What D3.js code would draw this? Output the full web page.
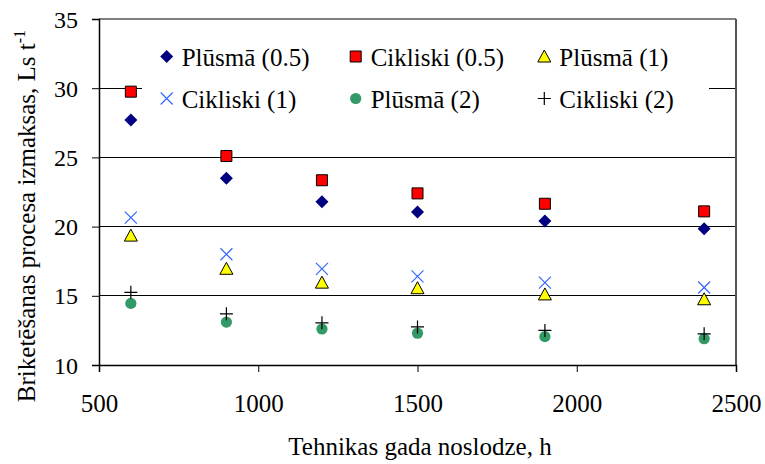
<!DOCTYPE html>
<html>
<head>
<meta charset="utf-8">
<script src="https://cdn.jsdelivr.net/npm/d3@7"></script>
<style>
  html, body { margin: 0; padding: 0; background: #fff; }
  svg { display: block; }
  svg text { font-family: 'Liberation Serif', 'Times New Roman', Times, 'DejaVu Serif', serif; }
</style>
</head>
<body>
<svg id="chart" width="765" height="464"></svg>
<script>
// Annual machine load, h
const hours = [600, 900, 1200, 1500, 1900, 2400];

// Briquetting cost, Ls per tonne
const plusma05   = [27.7, 23.5, 21.8, 21.05, 20.4, 19.85];
const cikliski05 = [29.75, 25.1, 23.35, 22.4, 21.65, 21.1];
const plusma1    = [19.35, 16.95, 15.95, 15.55, 15.1, 14.75];
const cikliski1  = [20.65, 18.0, 16.95, 16.4, 15.95, 15.6];
const plusma2    = [14.45, 13.1, 12.6, 12.3, 12.05, 11.9];
const cikliski2  = [15.25, 13.7, 13.05, 12.75, 12.5, 12.25];

const xTicks = [500, 1000, 1500, 2000, 2500];
const yTicks = [10, 15, 20, 25, 30, 35];

const seriesNames = ["Plūsmā (0.5)", "Cikliski (0.5)", "Plūsmā (1)",
                     "Cikliski (1)", "Plūsmā (2)", "Cikliski (2)"];

const FONT = "'Liberation Serif', 'Times New Roman', Times, 'DejaVu Serif', serif";

const series = [
  { name: seriesNames[0], values: plusma05,   shape: "diamond",  fill: "#000080", stroke: "none" },
  { name: seriesNames[1], values: cikliski05, shape: "square",   fill: "#ff0000", stroke: "#000" },
  { name: seriesNames[2], values: plusma1,    shape: "triangle", fill: "#ffff00", stroke: "#000" },
  { name: seriesNames[3], values: cikliski1,  shape: "x",        fill: "none",    stroke: "#3366ff" },
  { name: seriesNames[4], values: plusma2,    shape: "circle",   fill: "#339966", stroke: "none" },
  { name: seriesNames[5], values: cikliski2,  shape: "plus",     fill: "none",    stroke: "#000" }
];

const svg = d3.select("#chart").attr("font-family", FONT);
const plot = { left: 99, right: 736, top: 19, bottom: 365 };

const x = d3.scaleLinear().domain([500, 2500]).range([plot.left, plot.right]);
const y = d3.scaleLinear().domain([10, 35]).range([plot.bottom, plot.top]);

// Marker path generator, centred on 0,0
function markerPath(shape) {
  switch (shape) {
    case "diamond":  return "M0,-6.5L6.5,0L0,6.5L-6.5,0Z";
    case "square":   return "M-5.5,-5.5H5.5V5.5H-5.5Z";
    case "triangle": return "M0,-6.5L6.5,5.5H-6.5Z";
    case "x":        return "M-6,-6L6,6M6,-6L-6,6";
    case "plus":     return "M-6.5,0H6.5M0,-6.5V6.5";
    case "circle":   return d3.symbol(d3.symbolCircle, Math.PI * 5.6 * 5.6)();
  }
}

function drawMarker(g, s) {
  g.append("path")
    .attr("d", markerPath(s.shape))
    .attr("fill", s.fill)
    .attr("stroke", s.stroke)
    .attr("stroke-width", s.shape === "x" || s.shape === "plus" ? 1.2 : 1);
}

// Horizontal gridlines
svg.append("g")
  .selectAll("line")
  .data(yTicks.filter(t => t > 10 && t < 35))
  .join("line")
  .attr("x1", plot.left).attr("x2", plot.right)
  .attr("y1", d => y(d)).attr("y2", d => y(d))
  .attr("stroke", "#000").attr("stroke-width", 1)
  .attr("shape-rendering", "crispEdges");

// Plot frame: top and right edges
svg.append("line")
  .attr("x1", plot.left).attr("x2", plot.right)
  .attr("y1", plot.top).attr("y2", plot.top)
  .attr("stroke", "#000").attr("stroke-width", 1.2);
svg.append("line")
  .attr("x1", plot.right).attr("x2", plot.right)
  .attr("y1", plot.top).attr("y2", plot.bottom)
  .attr("stroke", "#555").attr("stroke-width", 2);

// Legend box (white, drawn over the gridline)
const legend = svg.append("g");
legend.append("rect")
  .attr("x", 142).attr("y", 34).attr("width", 567).attr("height", 90)
  .attr("fill", "#fff");

const legendCols = [166.7, 355.7, 544.3];
const legendRows = [66, 108];
series.forEach((s, i) => {
  const cx = legendCols[i % 3];
  const by = legendRows[Math.floor(i / 3)];
  const g = legend.append("g").attr("transform", `translate(${cx},${by - 9.5})`);
  drawMarker(g, s);
  legend.append("text")
    .attr("x", cx + 15).attr("y", by)
    .attr("font-family", FONT)
    .attr("font-size", 25)
    .attr("fill", "#000")
    .text(s.name);
});

// Axes
const xAxis = d3.axisBottom(x).tickValues(xTicks).tickFormat(d3.format("d")).tickSize(7).tickPadding(22);
const yAxis = d3.axisLeft(y).tickValues(yTicks).tickFormat(d3.format("d")).tickSize(7).tickPadding(14);

const gx = svg.append("g").attr("transform", `translate(0,${plot.bottom})`).call(xAxis);
const gy = svg.append("g").attr("transform", `translate(${plot.left},0)`).call(yAxis);

[gx, gy].forEach(g => {
  g.attr("font-family", FONT);
  g.select(".domain").attr("stroke", "#000").attr("stroke-width", 1.5);
  g.selectAll(".tick line").attr("stroke", "#000").attr("stroke-width", 1);
  g.selectAll(".tick text")
    .attr("font-family", FONT)
    .attr("fill", "#000");
});
gx.selectAll(".tick text").attr("font-size", 25).attr("dy", "0.71em");
gy.selectAll(".tick text").attr("font-size", 24).attr("dy", "0.34em");

// Data markers
series.forEach(s => {
  svg.append("g")
    .selectAll("g")
    .data(s.values.map((v, i) => ({ h: hours[i], v })))
    .join("g")
    .attr("transform", d => `translate(${x(d.h)},${y(d.v)})`)
    .each(function () { drawMarker(d3.select(this), s); });
});

// Axis titles
svg.append("text")
  .attr("x", 420).attr("y", 455)
  .attr("text-anchor", "middle")
  .attr("font-family", FONT)
  .attr("font-size", 25)
  .attr("fill", "#000")
  .text("Tehnikas gada noslodze, h");

const yTitle = svg.append("text")
  .attr("transform", "translate(35,216) rotate(-90)")
  .attr("text-anchor", "middle")
  .attr("font-family", FONT)
  .attr("font-size", 25)
  .attr("fill", "#000");
yTitle.append("tspan").text("Briketēšanas procesa izmaksas, Ls t");
yTitle.append("tspan").attr("dy", -10).attr("font-size", 16).text("-1");
</script>
</body>
</html>
